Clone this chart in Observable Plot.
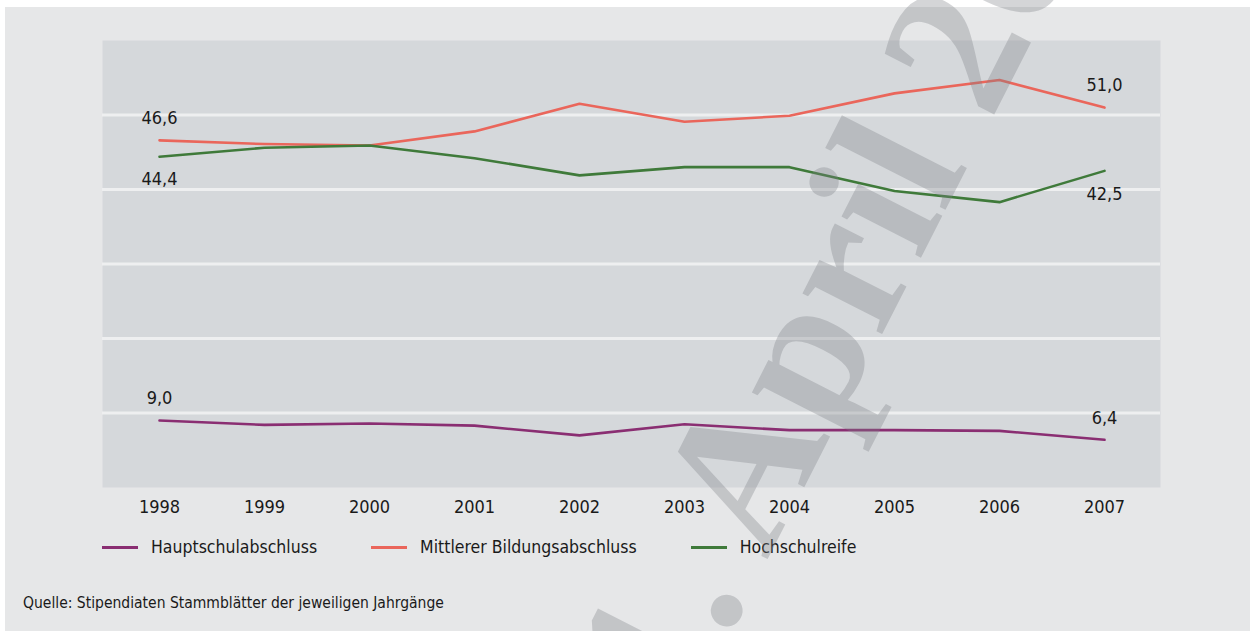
<!DOCTYPE html>
<html>
<head>
<meta charset="utf-8">
<script src="https://cdn.jsdelivr.net/npm/d3@7"></script>
<script src="https://cdn.jsdelivr.net/npm/@observablehq/plot@0.6"></script>
<style>
  html, body { margin: 0; padding: 0; background: #ffffff; width: 1250px; height: 631px; overflow: hidden; }
  body { position: relative; font-family: "Liberation Sans Narrow", "DejaVu Sans Condensed", "Roboto Condensed", sans-serif; color: #1a1a1a; }
  #panel { position: absolute; left: 5px; top: 7px; width: 1245px; height: 624px; background: #e6e7e8; }
  #chart { position: absolute; left: 0; top: 0; }
  #legend { position: absolute; left: 102px; top: 537px; display: flex; align-items: center; font-size: 17.5px; }
  .item { display: flex; align-items: center; margin-right: 54px; }
  .sw { width: 36px; height: 3px; margin-right: 13px; }
  #source { position: absolute; left: 23px; top: 594px; font-size: 15.5px; }
  #wm { position: absolute; left: 0; top: 0; pointer-events: none; }
</style>
</head>
<body>
<div id="panel"></div>
<div id="chart"></div>
<div id="legend"></div>
<div id="source"></div>
<svg id="wm" width="1250" height="631"></svg>
<script>
// ---- data ----
const years = [1998, 1999, 2000, 2001, 2002, 2003, 2004, 2005, 2006, 2007];
const hauptschulabschluss = [9.0, 8.4, 8.6, 8.3, 7.0, 8.5, 7.7, 7.7, 7.6, 6.4];
const mittlererAbschluss = [46.6, 46.1, 45.9, 47.8, 51.5, 49.1, 49.9, 52.9, 54.7, 51.0];
const hochschulreife = [44.4, 45.6, 45.9, 44.2, 41.9, 43.0, 43.0, 39.8, 38.3, 42.5];
const seriesNames = ["Hauptschulabschluss", "Mittlerer Bildungsabschluss", "Hochschulreife"];
const seriesColors = ["#8a2e72", "#ea665b", "#3f7a3a"];
const gridValues = [10, 20, 30, 40, 50];
const watermarkText = "1. April 2008";
const sourceText = "Quelle: Stipendiaten Stammblätter der jeweiligen Jahrgänge";

const seriesValues = [hauptschulabschluss, mittlererAbschluss, hochschulreife];
const data = [];
seriesNames.forEach((s, i) => years.forEach((y, j) => data.push({series: s, year: y, value: seriesValues[i][j]})));

const fmt = v => v.toFixed(1).replace(".", ",");
const endLabels = data.filter(d => d.year === years[0] || d.year === years[years.length - 1])
  .map(d => ({...d, label: fmt(d.value)}));
const below = "Hochschulreife";

const font = '"Liberation Sans Narrow", "DejaVu Sans Condensed", "Roboto Condensed", sans-serif';

const chart = Plot.plot({
  width: 1250,
  height: 522,
  marginLeft: 102,
  marginRight: 90,
  marginTop: 40,
  marginBottom: 35,
  style: {background: "transparent", fontFamily: font, fontSize: "18px", color: "#1a1a1a"},
  x: {type: "point", domain: years, padding: 0.52, axis: null},
  y: {domain: [0, 60], axis: null},
  color: {domain: seriesNames, range: seriesColors},
  marks: [
    Plot.frame({fill: "#d5d8db", stroke: "none"}),
    Plot.ruleY(gridValues, {stroke: "#eeeff0", strokeWidth: 3}),
    Plot.lineY(data, {x: "year", y: "value", z: "series", stroke: "series", strokeWidth: 2.6}),
    Plot.text(endLabels.filter(d => d.series !== below), {x: "year", y: "value", text: "label", dy: -22, fontSize: 18, fill: "#1a1a1a"}),
    Plot.text(endLabels.filter(d => d.series === below), {x: "year", y: "value", text: "label", dy: 23, fontSize: 18, fill: "#1a1a1a"}),
    Plot.axisX({tickSize: 0, tickPadding: 13, fontSize: 18, tickFormat: d => String(d), label: null})
  ]
});
document.getElementById("chart").appendChild(chart);

// legend
const legend = d3.select("#legend");
seriesNames.forEach((s, i) => {
  const it = legend.append("div").attr("class", "item");
  it.append("div").attr("class", "sw").style("background", seriesColors[i]);
  it.append("span").text(s);
});
d3.select("#source").text(sourceText);

// watermark
d3.select("#wm").append("text")
  .attr("transform", "translate(683,725) rotate(-63)")
  .attr("font-family", '"Liberation Serif", "DejaVu Serif", serif')
  .attr("font-weight", "bold")
  .attr("font-size", 195)
  .attr("fill", "#7d8185")
  .attr("fill-opacity", 0.33)
  .text(watermarkText);
</script>
</body>
</html>
